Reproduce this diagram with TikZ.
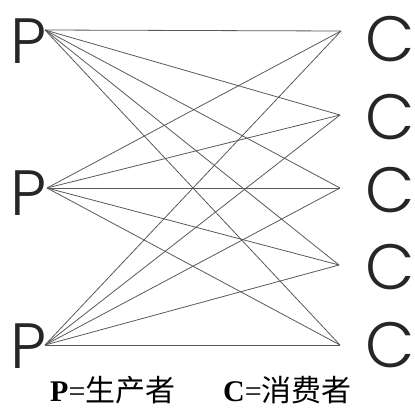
\documentclass[tikz,border=0pt]{standalone}
\usepackage{fontspec}
\setmainfont{Liberation Serif}
\newfontfamily\geo{Poppins}[UprightFont=* Light]
\newfontfamily\cjk{Noto Sans CJK SC}
\begin{document}
\begin{tikzpicture}[x=1pt,y=-1pt,
  link/.style={draw=black!65,line width=0.8pt},
  letter/.style={inner sep=0pt,anchor=base west,font=\geo\fontsize{64}{64}\selectfont,text=black!85},
  caption/.style={inner sep=0pt,anchor=base west,font=\fontsize{30}{30}\selectfont}]
\useasboundingbox (0,0) rectangle (415,407);
\coordinate (p1) at (45,30);
\coordinate (p2) at (47,188);
\coordinate (p3) at (45,345);
\coordinate (c1) at (341,31);
\coordinate (c2) at (340,115);
\coordinate (c3) at (340,188);
\coordinate (c4) at (339,265);
\coordinate (c5) at (340,345);
\foreach \p in {p1,p2,p3}{
  \foreach \c in {c1,c2,c3,c4,c5}{
    \draw[link] (\p) -- (\c);
  }
}
\node[letter] (lp1) at (10,63) {P};
\node[letter] (lp2) at (10,215) {P};
\node[letter] (lp3) at (10,368) {P};
\node[letter] (lc1) at (365,61) {C};
\node[letter] (lc2) at (365,139) {C};
\node[letter] (lc3) at (365,212) {C};
\node[letter] (lc4) at (365,289) {C};
\node[letter] (lc5) at (365,367) {C};
\node[caption] (cap1) at (50,401) {\textbf{P}=\cjk 生产者};
\node[caption] (cap2) at (223,401) {\textbf{C}=\cjk 消费者};
\end{tikzpicture}
\end{document}
